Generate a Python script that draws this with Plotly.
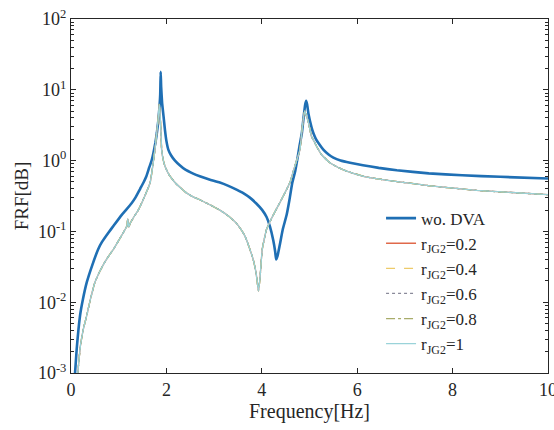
import plotly.graph_objects as go

# ---- data ----
freq_wo = [0.08, 0.12, 0.19, 0.25, 0.33, 0.45, 0.57, 0.65, 0.78, 0.90, 1.06, 1.15, 1.27, 1.35,
           1.45, 1.52, 1.58, 1.64, 1.69, 1.73, 1.77, 1.80, 1.83, 1.85, 1.87, 1.88, 1.89, 1.91,
           1.94, 1.97, 2.00, 2.04, 2.10, 2.18, 2.28, 2.39, 2.55, 2.70, 2.90, 3.12, 3.30,
           3.47, 3.62, 3.75, 3.88, 4.01, 4.10, 4.17, 4.24, 4.28, 4.30, 4.33, 4.38, 4.44,
           4.52, 4.58, 4.64, 4.70, 4.74, 4.79, 4.84, 4.88, 4.91, 4.93, 4.95, 4.98, 5.04,
           5.08, 5.13, 5.18, 5.29, 5.40, 5.50, 5.65, 5.85, 6.12, 6.45, 6.83, 7.50, 8.20,
           9.00, 10.0]
frf_wo = [0.0009, 0.0022, 0.0065, 0.011, 0.019, 0.034, 0.056, 0.071, 0.095, 0.122, 0.17, 0.20,
          0.25, 0.30, 0.40, 0.49, 0.60, 0.80, 1.0, 1.3, 1.8, 2.45, 3.6, 5.2, 8.5, 18.0, 11.0, 6.5,
          4.2, 2.7, 1.9, 1.43, 1.18, 1.0, 0.86, 0.75, 0.66, 0.60, 0.54, 0.49, 0.44,
          0.39, 0.345, 0.30, 0.25, 0.20, 0.16, 0.118, 0.075, 0.052, 0.040, 0.045, 0.066, 0.107,
          0.17, 0.28, 0.49, 0.71, 1.0, 1.6, 2.45, 4.3, 6.2, 7.0, 6.2, 4.5, 3.0,
          2.45, 2.05, 1.8, 1.43, 1.22, 1.1, 1.0, 0.93, 0.86, 0.79, 0.73, 0.66, 0.62,
          0.59, 0.56]

freq_dva = [0.13, 0.17, 0.20, 0.26, 0.33, 0.40, 0.50, 0.60, 0.70, 0.80, 0.89, 1.05, 1.17,
            1.19, 1.21, 1.24, 1.33, 1.41, 1.55, 1.66, 1.71, 1.76, 1.79, 1.81, 1.83, 1.85,
            1.87, 1.89, 1.90, 1.93, 1.97, 2.05, 2.18, 2.30, 2.42, 2.55, 2.70, 2.90, 3.12, 3.30,
            3.47, 3.57, 3.65, 3.75, 3.82, 3.88, 3.93, 3.96, 4.01, 4.10, 4.24, 4.41, 4.59, 4.69,
            4.75, 4.80, 4.85, 4.88, 4.90, 4.93, 4.98, 5.04, 5.10, 5.15, 5.25, 5.43, 5.60, 5.78,
            6.13, 6.60, 7.00, 7.53, 8.50, 10.0]
frf_dva = [0.0008, 0.0016, 0.0025, 0.0042, 0.0065, 0.0105, 0.019, 0.027, 0.036, 0.046, 0.056,
           0.085, 0.118, 0.15, 0.115, 0.13, 0.165, 0.20, 0.32, 0.49, 0.80, 1.43, 2.2, 3.0, 4.0,
           6.2, 4.2, 2.2, 1.43, 1.05, 0.83, 0.64, 0.49, 0.41, 0.35, 0.31, 0.28, 0.24, 0.20, 0.165,
           0.13, 0.105, 0.085, 0.056, 0.040, 0.026, 0.0145, 0.021, 0.056, 0.107, 0.17, 0.28,
           0.49, 0.83, 1.1, 1.43, 3.0, 4.3, 5.0, 4.4, 3.4, 2.2, 1.85, 1.58, 1.22, 0.93, 0.80,
           0.71, 0.60, 0.53, 0.49, 0.44, 0.38, 0.33]

r_labels = ["0.2", "0.4", "0.6", "0.8", "1"]
r_colors = ["#E0694A", "#EDCB6A", "#8A8A9A", "#A8AC6A", "#9AD3D9"]
r_dashes = ["solid", "dash", "dot", "dashdot", "solid"]

x_ticks = [0, 2, 4, 6, 8, 10]
y_ticks = [1e-3, 1e-2, 1e-1, 1e0, 1e1, 1e2]
y_ticktext = ["10<sup>-3</sup>", "10<sup>-2</sup>", "10<sup>-1</sup>",
              "10<sup>0</sup>", "10<sup>1</sup>", "10<sup>2</sup>"]
y_minor = [m * 10 ** e for e in range(-3, 2) for m in range(2, 10)]

FONT = "Liberation Serif, Times New Roman, serif"

fig = go.Figure()
fig.add_trace(go.Scatter(x=freq_wo, y=frf_wo, mode="lines", name="wo. DVA",
                         line=dict(color="#1F6FB4", width=2.6, shape="spline", smoothing=0.4)))
for lab, col, dsh in zip(r_labels, r_colors, r_dashes):
    fig.add_trace(go.Scatter(x=freq_dva, y=frf_dva, mode="lines",
                             name="r<sub>JG2</sub>=" + lab,
                             line=dict(color=col, width=1.3, dash=dsh,
                                       shape="spline", smoothing=0.4)))

axis_common = dict(showline=True, linecolor="#262626", linewidth=1, mirror="allticks",
                   ticks="inside", tickcolor="#262626", ticklen=5, showgrid=False,
                   zeroline=False, automargin=False, ticklabeloverflow="allow",
                   tickfont=dict(family=FONT, size=18, color="#262626"))

fig.update_xaxes(range=[0, 10], tickvals=x_ticks, ticktext=[str(v) for v in x_ticks],
                 title=dict(text="Frequency[Hz]", font=dict(family=FONT, size=20, color="#262626"),
                            standoff=2),
                 **axis_common)
fig.update_yaxes(type="log", range=[-3, 2], tickvals=y_ticks, ticktext=y_ticktext,
                 minor=dict(tickvals=y_minor, ticks="inside", ticklen=3, tickcolor="#262626"),
                 title=dict(text="FRF[dB]", font=dict(family=FONT, size=19, color="#262626"),
                            standoff=4),
                 **axis_common)

fig.update_layout(
    width=554, height=430,
    margin=dict(l=71, r=6, t=19, b=57),
    paper_bgcolor="white", plot_bgcolor="white",
    showlegend=True,
    legend=dict(x=0.65, y=0.487, xanchor="left", yanchor="top",
                bgcolor="rgba(0,0,0,0)", borderwidth=0,
                font=dict(family=FONT, size=17, color="#262626"),
                tracegroupgap=0, itemwidth=30),
)

fig.write_html("out.html", config={"displayModeBar": False},
               post_script="document.body.style.margin='0';document.body.style.overflow='hidden';")
